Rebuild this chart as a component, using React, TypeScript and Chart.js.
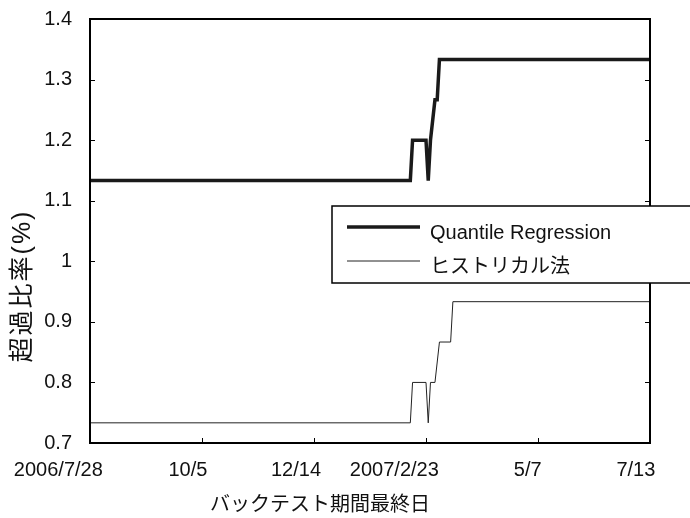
import React, { useEffect, useRef } from "react";
import { Chart, registerables } from "chart.js";

Chart.register(...registerables);

// ---- data ----
const xTickIndex = [0, 50, 100, 150, 200, 250];
const xTickLabels = ["2006/7/28", "10/5", "12/14", "2007/2/23", "5/7", "7/13"];
const yTickLabels = ["0.7", "0.8", "0.9", "1", "1.1", "1.2", "1.3", "1.4"];

const qrX = [0, 143, 144, 150, 151, 152, 154, 155, 156, 250];
const qrY = [1.1333, 1.1333, 1.2, 1.2, 1.1333, 1.2, 1.2667, 1.2667, 1.3333, 1.3333];

const histX = [0, 143, 144, 150, 151, 152, 154, 156, 161, 162, 250];
const histY = [0.7333, 0.7333, 0.8, 0.8, 0.7333, 0.8, 0.8, 0.8667, 0.8667, 0.9333, 0.9333];

const seriesNames = ["Quantile Regression", "ヒストリカル法"];
const xTitle = "バックテスト期間最終日";
const yTitle = "超過比率(%)";

const FONT = "'Liberation Sans', Arial, 'Noto Sans CJK JP', sans-serif";

const framePlugin = {
  id: "framePlugin",
  afterDatasetsDraw(chart: any) {
    const { ctx, chartArea } = chart;
    const { left, right, top, bottom } = chartArea;
    const xs = chart.scales.x;
    const ys = chart.scales.y;
    ctx.save();
    // frame
    ctx.strokeStyle = "#000";
    ctx.lineWidth = 2;
    ctx.strokeRect(left, top, right - left, bottom - top);
    // y ticks inward (left and right)
    ctx.lineWidth = 1;
    ys.ticks.forEach((t: any) => {
      const y = Math.round(ys.getPixelForValue(t.value)) + 0.5;
      ctx.beginPath();
      ctx.moveTo(left, y);
      ctx.lineTo(left + 5, y);
      ctx.moveTo(right, y);
      ctx.lineTo(right - 5, y);
      ctx.stroke();
    });
    // x ticks inward and labels
    ctx.font = `20px ${FONT}`;
    ctx.fillStyle = "#111";
    ctx.textBaseline = "middle";
    ctx.textAlign = "left";
    xTickIndex.forEach((v, i) => {
      const x = Math.round(xs.getPixelForValue(v)) + 0.5;
      ctx.beginPath();
      ctx.moveTo(x, bottom);
      ctx.lineTo(x, bottom - 5);
      ctx.stroke();
      const w = ctx.measureText(xTickLabels[i]).width;
      ctx.fillText(xTickLabels[i], x + 0.15 * w - 1 - w, bottom + 27);
    });
    // axis titles
    ctx.textAlign = "center";
    ctx.fillText(xTitle, 320, 505);
    ctx.save();
    ctx.translate(23, 286);
    ctx.rotate(-Math.PI / 2);
    ctx.font = `25px ${FONT}`;
    try {
      (ctx as any).letterSpacing = "2px";
    } catch (e) {}
    ctx.fillText(yTitle, 0, 0);
    ctx.restore();

    // legend
    const bx = 332, by = 206, bw = 400, bh = 77;
    ctx.fillStyle = "#fff";
    ctx.fillRect(bx, by, bw, bh);
    ctx.strokeStyle = "#000";
    ctx.lineWidth = 1.5;
    ctx.strokeRect(bx, by, bw, bh);
    const ds = chart.data.datasets;
    const rows = [227, 261];
    const textRows = [233, 267];
    ds.forEach((d: any, i: number) => {
      ctx.strokeStyle = d.borderColor;
      ctx.lineWidth = d.borderWidth;
      ctx.beginPath();
      ctx.moveTo(347, rows[i]);
      ctx.lineTo(420, rows[i]);
      ctx.stroke();
      ctx.fillStyle = "#111";
      ctx.font = `20px ${FONT}`;
      ctx.textAlign = "left";
      ctx.textBaseline = "middle";
      ctx.fillText(d.label, 430, textRows[i]);
    });
    ctx.restore();
  },
};

export default function App() {
  const ref = useRef<HTMLCanvasElement>(null);
  useEffect(() => {
    const chart = new Chart(ref.current as HTMLCanvasElement, {
      type: "line",
      data: {
        datasets: [
          {
            label: seriesNames[0],
            data: qrX.map((x, i) => ({ x, y: qrY[i] })),
            borderColor: "#1a1a1a",
            borderWidth: 3.5,
            pointRadius: 0,
            tension: 0,
            fill: false,
          },
          {
            label: seriesNames[1],
            data: histX.map((x, i) => ({ x, y: histY[i] })),
            borderColor: "#222",
            borderWidth: 1,
            pointRadius: 0,
            tension: 0,
            fill: false,
          },
        ],
      },
      options: {
        animation: false,
        responsive: false,
        devicePixelRatio: 1,
        layout: { padding: { left: 0, top: 19, right: 40, bottom: 0 } },
        plugins: { legend: { display: false }, tooltip: { enabled: false } },
        scales: {
          x: {
            type: "linear",
            min: 0,
            max: 250,
            ticks: { display: false, stepSize: 50 },
            grid: { display: false },
            border: { display: false },
            afterFit: (s: any) => {
              s.height = 75;
              s.paddingLeft = 0;
              s.paddingRight = 0;
            },
          },
          y: {
            type: "linear",
            min: 0.7,
            max: 1.4,
            ticks: {
              stepSize: 0.1,
              padding: 18,
              color: "#111",
              font: { family: FONT, size: 20 },
              callback: (_v: any, i: number) => yTickLabels[i],
            },
            grid: { display: false, drawTicks: false },
            border: { display: false },
            afterFit: (s: any) => {
              s.width = 90;
              s.paddingTop = 0;
              s.paddingBottom = 0;
            },
          },
        },
      },
      plugins: [framePlugin],
    } as any);
    return () => chart.destroy();
  }, []);
  return (
    <div style={{ position: "absolute", left: 0, top: 0, width: 690, height: 518, background: "#fff" }}>
      <canvas ref={ref} width={690} height={518} style={{ display: "block" }} />
    </div>
  );
}
